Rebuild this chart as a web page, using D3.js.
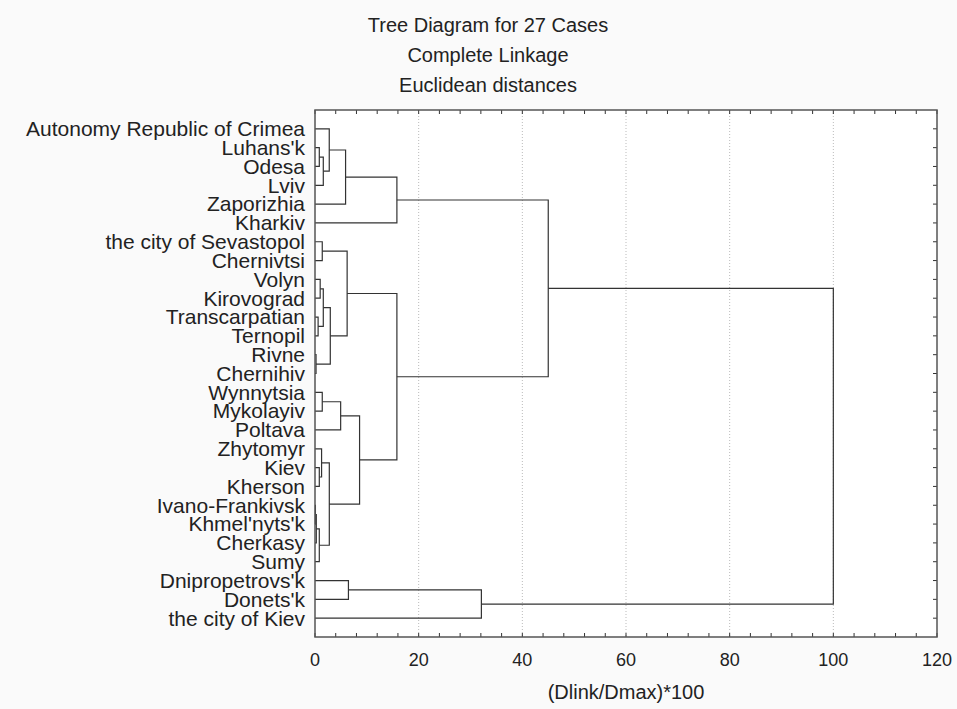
<!DOCTYPE html>
<html>
<head>
    <meta charset="utf-8" />
    <title>Tree Diagram</title>
    <style>
        body { margin: 0; background: #fafafa; }
        #tree_chart { width: 957px; height: 709px; }
        text { font-family: "Liberation Sans", Arial, sans-serif; fill: #222; }
    </style>
</head>
<body>
    <div id="tree_chart"></div>
    <script src="https://cdnjs.cloudflare.com/ajax/libs/d3/7.8.5/d3.min.js"></script>
    <script>
        var cases = ["Autonomy Republic of Crimea", "Luhans'k", "Odesa", "Lviv", "Zaporizhia", "Kharkiv",
            "the city of Sevastopol", "Chernivtsi", "Volyn", "Kirovograd", "Transcarpatian", "Ternopil",
            "Rivne", "Chernihiv", "Wynnytsia", "Mykolayiv", "Poltava", "Zhytomyr", "Kiev", "Kherson",
            "Ivano-Frankivsk", "Khmel'nyts'k", "Cherkasy", "Sumy", "Dnipropetrovs'k", "Donets'k", "the city of Kiev"]

        // linkage steps: [node a, node b, linkage distance]; new nodes get ids 27, 28, ...
        var links = [
            [1, 2, 0.83], [27, 3, 1.6], [0, 28, 2.75], [29, 4, 5.9], [30, 5, 15.8],
            [6, 7, 1.4], [8, 9, 1.0], [10, 11, 0.6], [33, 34, 1.6], [12, 13, 0.2],
            [35, 36, 2.95], [32, 37, 6.2], [14, 15, 1.4], [39, 16, 4.95], [18, 19, 0.83],
            [17, 41, 1.27], [20, 21, 0.08], [43, 22, 0.25], [44, 23, 0.83], [42, 45, 2.76],
            [40, 46, 8.6], [38, 47, 15.8], [31, 48, 45.0], [24, 25, 6.45], [50, 26, 32.1],
            [49, 51, 100]
        ]

        var xTicks = [0, 20, 40, 60, 80, 100, 120]
        var xMinor = d3.range(0, 121, 4)
        var titles = ["Tree Diagram for 27 Cases", "Complete Linkage", "Euclidean distances"]

        var width = 957, height = 709
        var margin = { top: 110, right: 20, bottom: 72, left: 315 }

        var svg = d3.select("#tree_chart").append("svg")
            .attr("width", width)
            .attr("height", height)

        var xScale = d3.scaleLinear().domain([0, 120]).range([margin.left, width - margin.right])
        var yScale = d3.scalePoint().domain(cases).range([margin.top, height - margin.bottom]).padding(1)

        // titles
        svg.selectAll(".title").data(titles).enter().append("text")
            .attr("x", 488)
            .attr("y", function (d, i) { return 32 + i * 30 })
            .attr("text-anchor", "middle")
            .style("font-size", "20px")
            .text(function (d) { return d })

        // plot area
        svg.append("rect")
            .attr("x", margin.left).attr("y", margin.top)
            .attr("width", xScale(120) - margin.left)
            .attr("height", height - margin.bottom - margin.top)
            .attr("fill", "#fff")

        // grid
        svg.selectAll(".grid").data(xTicks.slice(1, -1)).enter().append("line")
            .attr("x1", xScale).attr("x2", xScale)
            .attr("y1", margin.top).attr("y2", height - margin.bottom)
            .attr("stroke", "#bbb")
            .attr("stroke-dasharray", "1,2")

        // ticks on the frame
        var yb = height - margin.bottom
        var tk = svg.append("g").attr("stroke", "#333")
        tk.selectAll(".tb").data(xMinor).enter().append("line")
            .attr("x1", xScale).attr("x2", xScale)
            .attr("y1", yb).attr("y2", yb - 4)
        tk.selectAll(".tt").data(xMinor).enter().append("line")
            .attr("x1", xScale).attr("x2", xScale)
            .attr("y1", margin.top).attr("y2", margin.top + 4)
        tk.selectAll(".tr").data(cases).enter().append("line")
            .attr("x1", xScale(120)).attr("x2", xScale(120) - 4)
            .attr("y1", yScale).attr("y2", yScale)

        svg.selectAll(".xlab").data(xTicks).enter().append("text")
            .attr("x", xScale)
            .attr("y", yb + 29)
            .attr("text-anchor", "middle")
            .style("font-size", "18px")
            .text(function (d) { return d })

        svg.append("text")
            .attr("x", (margin.left + xScale(120)) / 2).attr("y", 699)
            .attr("text-anchor", "middle")
            .style("font-size", "20px")
            .text("(Dlink/Dmax)*100")

        // case labels
        svg.selectAll(".case").data(cases).enter().append("text")
            .attr("x", margin.left - 10)
            .attr("y", function (d) { return yScale(d) })
            .attr("dy", "0.35em")
            .attr("text-anchor", "end")
            .style("font-size", "21px")
            .text(function (d) { return d })

        // build dendrogram nodes
        var nodes = cases.map(function (c) { return { y: yScale(c), h: 0 } })
        links.forEach(function (l) {
            var a = nodes[l[0]], b = nodes[l[1]]
            nodes.push({ y: (a.y + b.y) / 2, h: l[2], a: a, b: b })
        })

        var g = svg.append("g")
            .attr("fill", "none")
            .attr("stroke", "#333")
            .attr("stroke-width", 1.2)
        nodes.filter(function (n) { return n.a }).forEach(function (n) {
            var path = d3.path()
            path.moveTo(xScale(n.a.h), n.a.y)
            path.lineTo(xScale(n.h), n.a.y)
            path.lineTo(xScale(n.h), n.b.y)
            path.lineTo(xScale(n.b.h), n.b.y)
            g.append("path").attr("d", path.toString())
        })

        // frame
        svg.append("rect")
            .attr("x", margin.left).attr("y", margin.top)
            .attr("width", xScale(120) - margin.left)
            .attr("height", height - margin.bottom - margin.top)
            .attr("fill", "none")
            .attr("stroke", "#555")
            .attr("stroke-width", 1.5)
    </script>
</body>
</html>
